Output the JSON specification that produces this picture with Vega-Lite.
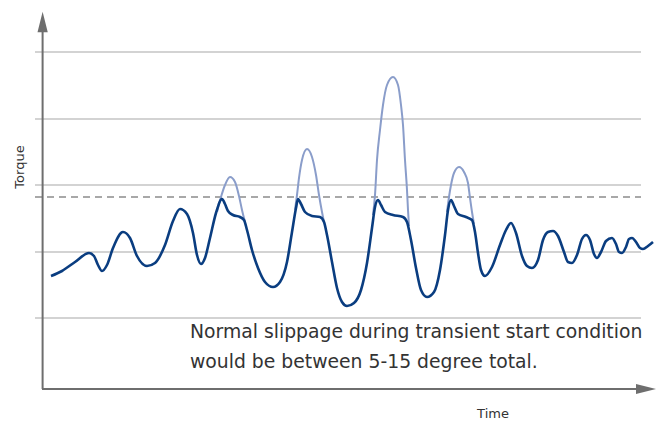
{
  "$schema": "https://vega.github.io/schema/vega-lite/v6.json",
  "width": 615,
  "height": 377,
  "autosize": {"type": "none"},
  "padding": {"left": 42, "top": 12, "right": 7, "bottom": 33},
  "config": {"view": {"stroke": null}},
  "datasets": {
    "dark": [
      {"t": 9, "v": 113}, {"t": 20, "v": 118}, {"t": 33, "v": 127}, {"t": 47, "v": 136}, {"t": 52, "v": 133},
      {"t": 56, "v": 124}, {"t": 60, "v": 118}, {"t": 65, "v": 124}, {"t": 71, "v": 141}, {"t": 81, "v": 157},
      {"t": 88, "v": 151}, {"t": 95, "v": 133}, {"t": 105, "v": 123}, {"t": 113, "v": 126}, {"t": 123, "v": 144},
      {"t": 131, "v": 168}, {"t": 138, "v": 180}, {"t": 145, "v": 175}, {"t": 151, "v": 156}, {"t": 155, "v": 134},
      {"t": 159, "v": 125}, {"t": 163, "v": 131}, {"t": 168, "v": 151}, {"t": 174, "v": 176}, {"t": 180, "v": 190},
      {"t": 183, "v": 185}, {"t": 186, "v": 178}, {"t": 191, "v": 174}, {"t": 198, "v": 172}, {"t": 202, "v": 169},
      {"t": 205, "v": 159}, {"t": 210, "v": 139}, {"t": 216, "v": 121}, {"t": 223, "v": 107}, {"t": 231, "v": 102},
      {"t": 238, "v": 107}, {"t": 245, "v": 127}, {"t": 250, "v": 157}, {"t": 254, "v": 181}, {"t": 256, "v": 190},
      {"t": 259, "v": 185}, {"t": 263, "v": 177}, {"t": 270, "v": 173}, {"t": 278, "v": 172}, {"t": 282, "v": 167},
      {"t": 285, "v": 154}, {"t": 290, "v": 127}, {"t": 295, "v": 101}, {"t": 300, "v": 87}, {"t": 305, "v": 83},
      {"t": 312, "v": 86}, {"t": 319, "v": 99}, {"t": 325, "v": 126}, {"t": 330, "v": 161}, {"t": 333, "v": 182},
      {"t": 336, "v": 189}, {"t": 339, "v": 184}, {"t": 343, "v": 177}, {"t": 351, "v": 174}, {"t": 361, "v": 172},
      {"t": 365, "v": 167}, {"t": 369, "v": 149}, {"t": 374, "v": 121}, {"t": 379, "v": 99}, {"t": 385, "v": 92},
      {"t": 392, "v": 97}, {"t": 398, "v": 119}, {"t": 403, "v": 154}, {"t": 406, "v": 179}, {"t": 409, "v": 189},
      {"t": 412, "v": 183}, {"t": 416, "v": 175}, {"t": 424, "v": 172}, {"t": 430, "v": 169}, {"t": 433, "v": 157},
      {"t": 436, "v": 136}, {"t": 439, "v": 119}, {"t": 443, "v": 113}, {"t": 450, "v": 122}, {"t": 458, "v": 144},
      {"t": 464, "v": 159}, {"t": 469, "v": 166}, {"t": 474, "v": 156}, {"t": 480, "v": 133}, {"t": 485, "v": 123},
      {"t": 490, "v": 121}, {"t": 496, "v": 129}, {"t": 501, "v": 149}, {"t": 506, "v": 157}, {"t": 511, "v": 158},
      {"t": 516, "v": 153}, {"t": 522, "v": 137}, {"t": 526, "v": 127}, {"t": 530, "v": 126}, {"t": 535, "v": 134},
      {"t": 540, "v": 150}, {"t": 544, "v": 154}, {"t": 548, "v": 149}, {"t": 552, "v": 135}, {"t": 555, "v": 131},
      {"t": 559, "v": 137}, {"t": 564, "v": 148}, {"t": 570, "v": 151}, {"t": 574, "v": 145}, {"t": 577, "v": 137},
      {"t": 580, "v": 136}, {"t": 584, "v": 142}, {"t": 587, "v": 150}, {"t": 590, "v": 151}, {"t": 594, "v": 147},
      {"t": 598, "v": 141}, {"t": 601, "v": 140}, {"t": 606, "v": 143}, {"t": 611, "v": 147}
    ],
    "light": [
      {"s": "A", "t": 175, "v": 177}, {"s": "A", "t": 179, "v": 192}, {"s": "A", "t": 183, "v": 204}, {"s": "A", "t": 188, "v": 212},
      {"s": "A", "t": 193, "v": 207}, {"s": "A", "t": 197, "v": 193}, {"s": "A", "t": 200, "v": 179}, {"s": "A", "t": 203, "v": 167},
      {"s": "B", "t": 253, "v": 179}, {"s": "B", "t": 255, "v": 194}, {"s": "B", "t": 257, "v": 211}, {"s": "B", "t": 260, "v": 229},
      {"s": "B", "t": 265, "v": 240}, {"s": "B", "t": 270, "v": 232}, {"s": "B", "t": 274, "v": 214}, {"s": "B", "t": 277, "v": 194},
      {"s": "B", "t": 280, "v": 177}, {"s": "B", "t": 282, "v": 167},
      {"s": "C", "t": 331, "v": 174}, {"s": "C", "t": 333, "v": 194}, {"s": "C", "t": 335, "v": 229}, {"s": "C", "t": 338, "v": 259},
      {"s": "C", "t": 341, "v": 284}, {"s": "C", "t": 345, "v": 304}, {"s": "C", "t": 351, "v": 312}, {"s": "C", "t": 356, "v": 304},
      {"s": "C", "t": 359, "v": 284}, {"s": "C", "t": 361, "v": 264}, {"s": "C", "t": 363, "v": 229}, {"s": "C", "t": 365, "v": 199},
      {"s": "C", "t": 366, "v": 179}, {"s": "C", "t": 367, "v": 163},
      {"s": "D", "t": 405, "v": 177}, {"s": "D", "t": 407, "v": 192}, {"s": "D", "t": 409, "v": 204}, {"s": "D", "t": 412, "v": 216},
      {"s": "D", "t": 417, "v": 222}, {"s": "D", "t": 422, "v": 217}, {"s": "D", "t": 426, "v": 206}, {"s": "D", "t": 428, "v": 191},
      {"s": "D", "t": 430, "v": 177}, {"s": "D", "t": 432, "v": 165}
    ],
    "grid": [{"v": 337}, {"v": 270}, {"v": 204}, {"v": 137}, {"v": 71}]
  },
  "layer": [
    {
      "data": {"name": "grid"},
      "mark": {"type": "rule", "color": "#d3d3d3", "strokeWidth": 2},
      "encoding": {
        "x": {"datum": -7, "type": "quantitative", "scale": {"domain": [0, 615], "nice": false, "zero": false}, "axis": null},
        "x2": {"datum": 599},
        "y": {"field": "v", "type": "quantitative", "scale": {"domain": [0, 377], "nice": false, "zero": false}, "axis": null}
      }
    },
    {
      "data": {"values": [{"v": 192}]},
      "mark": {"type": "rule", "color": "#a8a8a8", "strokeWidth": 2, "strokeDash": [7, 5]},
      "encoding": {
        "x": {"datum": -7, "type": "quantitative"},
        "x2": {"datum": 599},
        "y": {"field": "v", "type": "quantitative"}
      }
    },
    {
      "data": {"name": "light"},
      "mark": {"type": "line", "color": "#8a9dca", "strokeWidth": 2, "interpolate": "monotone"},
      "encoding": {
        "x": {"field": "t", "type": "quantitative"},
        "y": {"field": "v", "type": "quantitative"},
        "detail": {"field": "s"}
      }
    },
    {
      "data": {"name": "dark"},
      "mark": {"type": "line", "color": "#0a3d80", "strokeWidth": 2.6, "interpolate": "monotone"},
      "encoding": {
        "x": {"field": "t", "type": "quantitative"},
        "y": {"field": "v", "type": "quantitative"}
      }
    },
    {
      "data": {"values": [{}]},
      "mark": {"type": "rule", "color": "#6e6e6e", "strokeWidth": 2},
      "encoding": {
        "x": {"datum": 0.6, "type": "quantitative"},
        "y": {"datum": 0, "type": "quantitative"},
        "y2": {"datum": 360}
      }
    },
    {
      "data": {"values": [{}]},
      "mark": {"type": "rule", "color": "#6e6e6e", "strokeWidth": 2},
      "encoding": {
        "x": {"datum": 0, "type": "quantitative"},
        "x2": {"datum": 598},
        "y": {"datum": 0, "type": "quantitative"}
      }
    },
    {
      "data": {"values": [{}]},
      "mark": {"type": "point", "shape": "M-0.5,1L0,-1L0.5,1Z", "size": 420, "filled": true, "color": "#6e6e6e", "opacity": 1},
      "encoding": {
        "x": {"datum": 0.6, "type": "quantitative"},
        "y": {"datum": 367, "type": "quantitative"}
      }
    },
    {
      "data": {"values": [{}]},
      "mark": {"type": "point", "shape": "M-1,-0.5L1,0L-1,0.5Z", "size": 400, "filled": true, "color": "#6e6e6e", "opacity": 1},
      "encoding": {
        "x": {"datum": 604, "type": "quantitative"},
        "y": {"datum": 0, "type": "quantitative"}
      }
    },
    {
      "data": {"values": [{}]},
      "mark": {"type": "text", "text": "Normal slippage during transient start condition", "align": "left", "baseline": "alphabetic", "font": "DejaVu Sans", "fontSize": 18.8, "color": "#333333"},
      "encoding": {
        "x": {"datum": 148, "type": "quantitative"},
        "y": {"datum": 51, "type": "quantitative"}
      }
    },
    {
      "data": {"values": [{}]},
      "mark": {"type": "text", "text": "would be between 5-15 degree total.", "align": "left", "baseline": "alphabetic", "font": "DejaVu Sans", "fontSize": 18.8, "color": "#333333"},
      "encoding": {
        "x": {"datum": 148, "type": "quantitative"},
        "y": {"datum": 21, "type": "quantitative"}
      }
    },
    {
      "data": {"values": [{}]},
      "mark": {"type": "text", "text": "Time", "align": "center", "baseline": "middle", "font": "DejaVu Sans", "fontSize": 13, "color": "#333333"},
      "encoding": {
        "x": {"datum": 451, "type": "quantitative"},
        "y": {"datum": -25, "type": "quantitative"}
      }
    },
    {
      "data": {"values": [{}]},
      "mark": {"type": "text", "text": "Torque", "align": "center", "baseline": "middle", "angle": 270, "font": "DejaVu Sans", "fontSize": 13, "color": "#333333"},
      "encoding": {
        "x": {"datum": -22, "type": "quantitative"},
        "y": {"datum": 222, "type": "quantitative"}
      }
    }
  ]
}
